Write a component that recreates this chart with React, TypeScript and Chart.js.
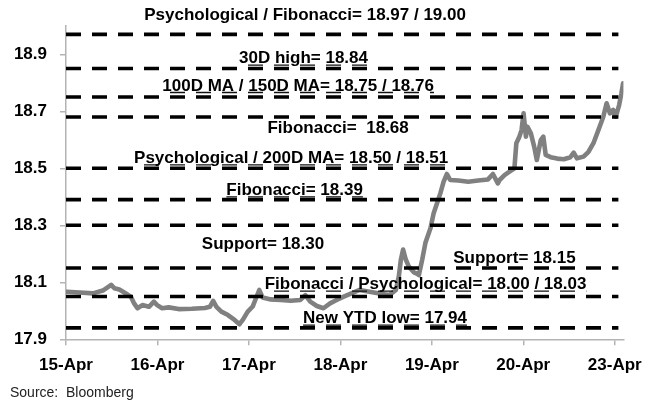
import React, { useEffect, useRef } from 'react';
import { Chart, registerables } from 'chart.js';

Chart.register(...registerables);

// ---- data ----
const dayLabels = ['15-Apr', '16-Apr', '17-Apr', '18-Apr', '19-Apr', '20-Apr', '23-Apr'];
const yTickValues = [17.9, 18.1, 18.3, 18.5, 18.7, 18.9];

// trading-day position (0 = 15-Apr) of each price reading
const priceX = [
  0.008, 0.151, 0.295, 0.403, 0.494, 0.529, 0.583, 0.655, 0.71, 0.745, 0.781, 0.835, 0.907, 0.961, 0.997,
  1.051, 1.123, 1.231, 1.375, 1.519, 1.573, 1.609, 1.645, 1.699, 1.771, 1.843, 1.897, 1.933, 1.987,
  2.041, 2.077, 2.113, 2.149, 2.239, 2.347, 2.455, 2.563, 2.617, 2.671, 2.743, 2.815, 2.887, 2.959,
  3.031, 3.121, 3.211, 3.319, 3.427, 3.535, 3.607, 3.639, 3.661, 3.686, 3.715, 3.749, 3.803, 3.841, 3.858, 3.895, 3.931, 3.985,
  4.02, 4.057, 4.093, 4.129, 4.165, 4.201, 4.29, 4.398, 4.506, 4.614, 4.668, 4.722, 4.741, 4.795, 4.849, 4.903, 4.924, 4.957, 4.981,
  5.003, 5.029, 5.046, 5.083, 5.119, 5.148, 5.191, 5.219, 5.245, 5.299, 5.37, 5.443, 5.515, 5.551, 5.587, 5.659, 5.713, 5.767, 5.821, 5.875, 5.911, 5.947, 5.983,
  6.012, 6.048, 6.073, 6.091,
];
const priceY = [
  18.067, 18.064, 18.061, 18.071, 18.091, 18.079, 18.075, 18.061, 18.049, 18.026, 18.009, 18.02, 18.014, 18.032, 18.02,
  18.009, 18.012, 18.006, 18.007, 18.01, 18.014, 18.035, 18.014, 17.997, 17.985, 17.968, 17.953, 17.968, 17.997,
  18.015, 18.044, 18.073, 18.047, 18.04, 18.038, 18.035, 18.038, 18.055, 18.032, 18.017, 18.009, 18.026, 18.038,
  18.049, 18.061, 18.073, 18.067, 18.061, 18.055, 18.073, 18.12, 18.178, 18.215, 18.18, 18.155, 18.135, 18.13, 18.125, 18.18, 18.24, 18.29,
  18.342, 18.377, 18.412, 18.453, 18.48, 18.459, 18.457, 18.453, 18.457, 18.461, 18.48, 18.447, 18.459, 18.476, 18.488, 18.5, 18.588, 18.611, 18.634,
  18.693, 18.611, 18.646, 18.623, 18.576, 18.529, 18.599, 18.611, 18.547, 18.539, 18.534, 18.532, 18.539, 18.555, 18.535, 18.541, 18.558, 18.588, 18.634, 18.681, 18.728, 18.693, 18.705,
  18.681, 18.722, 18.763, 18.798,
];

// horizontal levels drawn as dashed lines
const levelValues = [18.97, 18.85, 18.75, 18.68, 18.5, 18.39, 18.3, 18.15, 18.05, 17.94];
const levelTexts = [
  'Psychological / Fibonacci= 18.97 / 19.00',
  '30D high= 18.84',
  '100D MA / 150D MA= 18.75 / 18.76',
  'Fibonacci=  18.68',
  'Psychological / 200D MA= 18.50 / 18.51',
  'Fibonacci= 18.39',
  'Support= 18.30',
  'Support= 18.15',
  'Fibonacci / Psychological= 18.00 / 18.03',
  'New YTD low= 17.94',
];
const sourceText = 'Source:  Bloomberg';

// ---- layout of the level labels (data units: centre x, baseline y) ----
const labelAnchorX = [2.614, 2.597, 2.538, 2.975, 2.462, 2.5, 2.154, 4.903, 3.931, 3.488];
const labelAnchorY = [19.0204, 18.8684, 18.7723, 18.6228, 18.5186, 18.4063, 18.2158, 18.1667, 18.0754, 17.9561];
const labelUnderlined = [false, true, true, false, true, true, false, false, true, true];
const levelLineEnd = 6.04;

const FONT = '"Liberation Sans", Arial, sans-serif';
const AXIS_GREY = '#b4b4b4';
const DASH = [15, 11];

const labelPlugin = {
  id: 'levelLabels',
  afterDatasetsDraw(chart: any) {
    const { ctx, chartArea } = chart;
    const xs = chart.scales.x;
    const ys = chart.scales.y;
    ctx.save();
    ctx.font = `bold 17px ${FONT}`;
    ctx.textAlign = 'left';
    ctx.textBaseline = 'alphabetic';
    levelTexts.forEach((t, i) => {
      const cx = xs.getPixelForValue(labelAnchorX[i]);
      const by = ys.getPixelForValue(labelAnchorY[i]);
      const w = ctx.measureText(t).width;
      const left = cx - w / 2;
      if (labelUnderlined[i]) {
        ctx.save();
        ctx.strokeStyle = '#111';
        ctx.lineWidth = 1.3;
        ctx.setLineDash(DASH);
        ctx.lineDashOffset = left - chartArea.left;
        ctx.beginPath();
        ctx.moveTo(left, by + 1.8);
        ctx.lineTo(left + w, by + 1.8);
        ctx.stroke();
        ctx.restore();
      }
      ctx.fillStyle = '#000';
      ctx.fillText(t, left, by);
    });
    ctx.font = `14px ${FONT}`;
    ctx.fillStyle = '#222';
    ctx.textBaseline = 'middle';
    ctx.fillText(sourceText, 10, 393);
    ctx.restore();
  },
};

export default function App() {
  const canvasRef = useRef<HTMLCanvasElement | null>(null);

  useEffect(() => {
    document.body.style.margin = '0';
    const canvas = canvasRef.current;
    if (!canvas) return;

    const levelDatasets = levelValues.map((v) => ({
      type: 'line' as const,
      data: [
        { x: 0, y: v },
        { x: levelLineEnd, y: v },
      ],
      borderColor: '#000',
      borderWidth: 3.6,
      borderDash: DASH,
      borderCapStyle: 'butt' as const,
      pointRadius: 0,
      fill: false,
      order: 1,
    }));

    const priceDataset = {
      type: 'line' as const,
      data: priceX.map((x, i) => ({ x, y: priceY[i] })),
      borderColor: '#808080',
      borderWidth: 4.6,
      borderJoinStyle: 'round' as const,
      borderCapStyle: 'round' as const,
      pointRadius: 0,
      tension: 0,
      fill: false,
      order: 2,
    };

    const tickFont = { family: FONT, size: 17, weight: 'bold' as const };

    const chart = new Chart(canvas, {
      type: 'line',
      data: { datasets: [...levelDatasets, priceDataset] },
      options: {
        responsive: false,
        animation: false,
        devicePixelRatio: 1,
        layout: { padding: { top: 25.8, right: 21.6, bottom: 0, left: 0 } },
        plugins: { legend: { display: false }, tooltip: { enabled: false } },
        scales: {
          x: {
            type: 'linear',
            min: 0,
            max: 6.095,
            afterBuildTicks: (s: any) => {
              s.ticks = dayLabels.map((_, i) => ({ value: i }));
            },
            afterFit: (s: any) => {
              s.height = 62.7;
            },
            ticks: {
              callback: (v: any) => dayLabels[Math.round(Number(v))] ?? '',
              font: tickFont,
              color: '#000',
              padding: 10,
              maxRotation: 0,
              autoSkip: false,
            },
            grid: { drawOnChartArea: false, drawTicks: true, tickLength: 6, color: AXIS_GREY, lineWidth: 1.5 },
            border: { display: true, color: AXIS_GREY, width: 1.5 },
          },
          y: {
            type: 'linear',
            min: 17.9,
            max: 19.0,
            afterBuildTicks: (s: any) => {
              s.ticks = yTickValues.map((v) => ({ value: v }));
            },
            afterFit: (s: any) => {
              s.width = 66;
            },
            ticks: {
              callback: (v: any) => Number(v).toFixed(1),
              font: tickFont,
              color: '#000',
              padding: 13,
            },
            grid: { drawOnChartArea: false, drawTicks: true, tickLength: 6, color: AXIS_GREY, lineWidth: 1.5 },
            border: { display: true, color: AXIS_GREY, width: 1.5 },
          },
        },
      },
      plugins: [labelPlugin],
    });

    return () => chart.destroy();
  }, []);

  return (
    <div style={{ width: 652, height: 402, position: 'relative', background: '#fff' }}>
      <canvas ref={canvasRef} width={652} height={402} />
    </div>
  );
}
